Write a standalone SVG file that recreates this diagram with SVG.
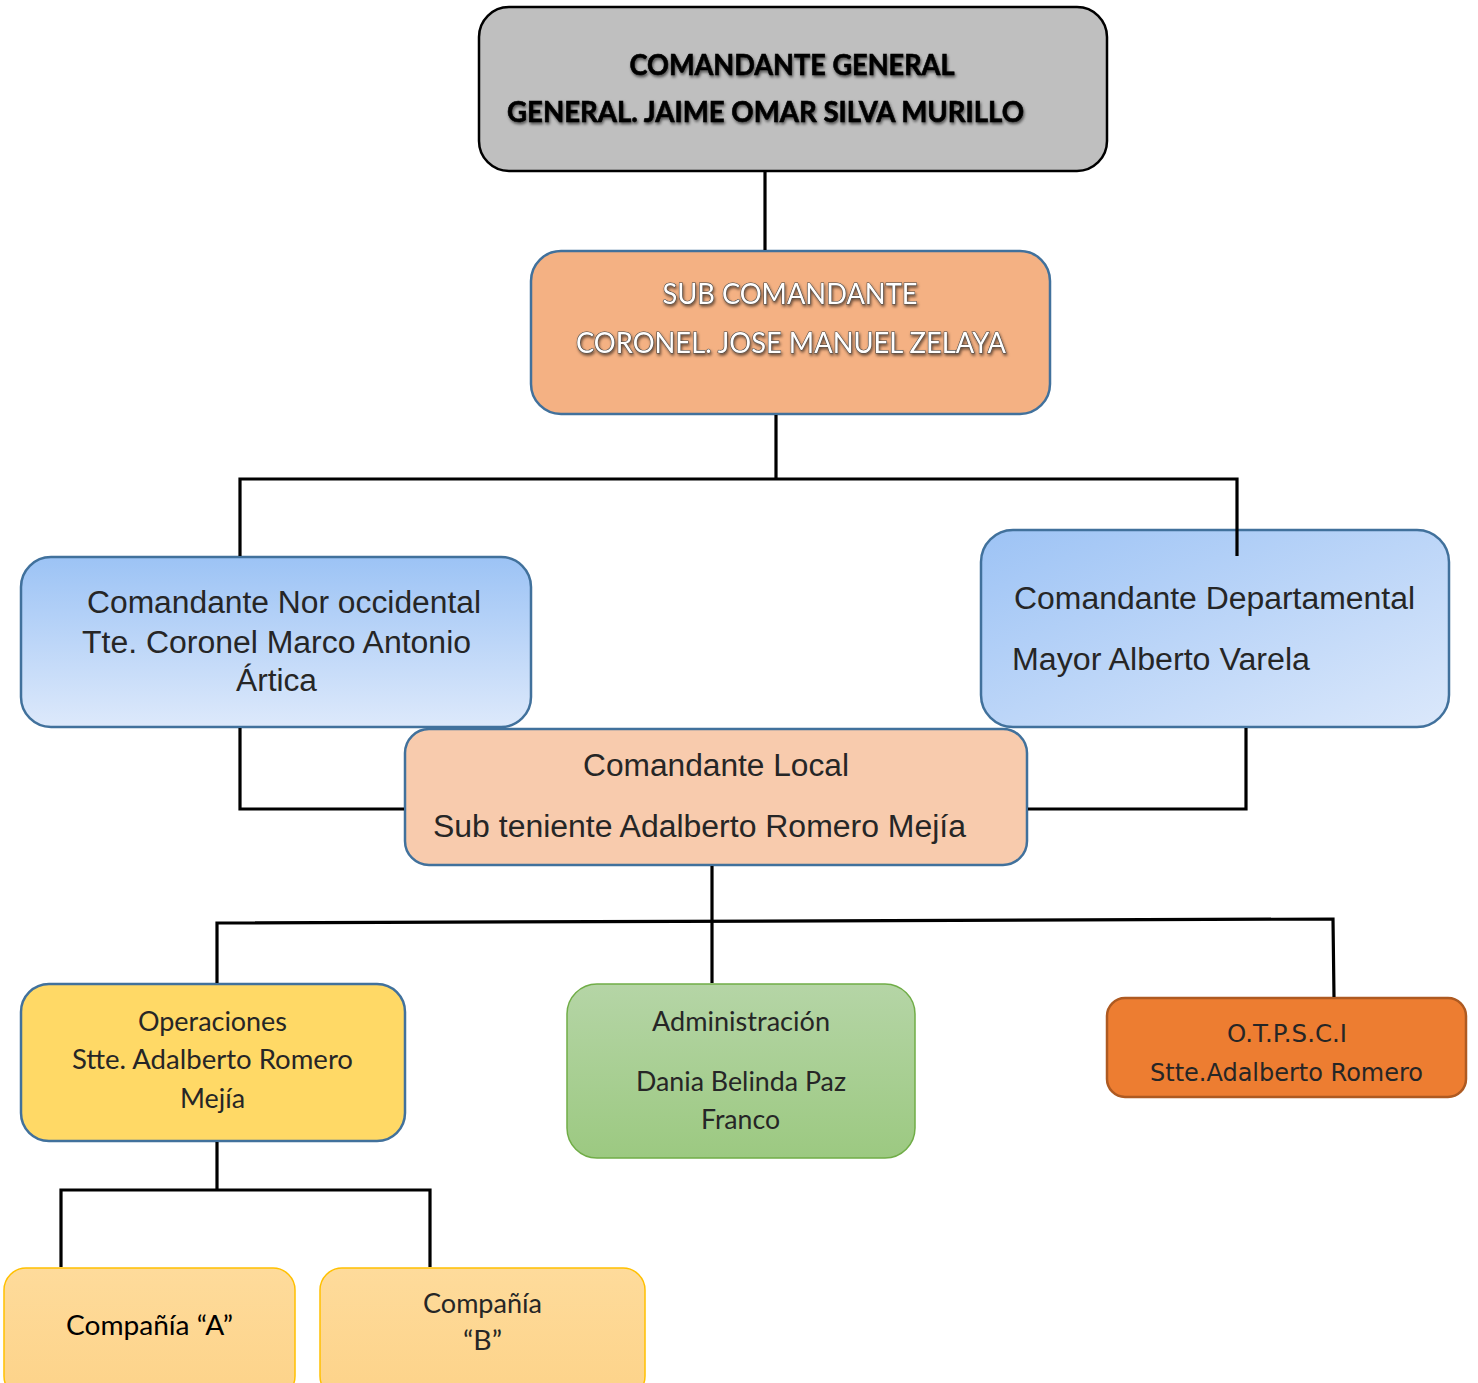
<svg xmlns="http://www.w3.org/2000/svg" width="1478" height="1383" viewBox="0 0 1478 1383">
<defs>
<linearGradient id="gBlueV" x1="0" y1="0" x2="0" y2="1"><stop offset="0" stop-color="#9cc3f5"/><stop offset="1" stop-color="#dde9fb"/></linearGradient>
<linearGradient id="gBlueD" x1="0" y1="0" x2="1" y2="1"><stop offset="0" stop-color="#9dc3f5"/><stop offset="1" stop-color="#dbe8fb"/></linearGradient>
<linearGradient id="gGreen" x1="0" y1="0" x2="0" y2="1"><stop offset="0" stop-color="#b5d5a6"/><stop offset="1" stop-color="#9cc981"/></linearGradient>
<linearGradient id="gComp" x1="0" y1="0" x2="0" y2="1"><stop offset="0" stop-color="#fedb9b"/><stop offset="1" stop-color="#fdd389"/></linearGradient>
<filter id="shadow" x="-5%" y="-30%" width="110%" height="160%"><feGaussianBlur in="SourceAlpha" stdDeviation="1.5"/><feOffset dx="1" dy="1.5" result="b"/><feFlood flood-color="#000" flood-opacity="0.6"/><feComposite in2="b" operator="in"/><feMerge><feMergeNode/><feMergeNode in="SourceGraphic"/></feMerge></filter>
</defs>
<style>
.box{stroke-width:2.5}
.conn{fill:none;stroke:#000;stroke-width:3.2;stroke-linejoin:miter}
.cal{font-family:Lato,"Open Sans","Liberation Sans",sans-serif;fill:#262626}
.ari{font-family:"Liberation Sans",Arial,sans-serif;fill:#262626}
.ver{font-family:"DejaVu Sans",Verdana,sans-serif;fill:#262626}
.big{font-family:Lato,"Liberation Sans",sans-serif;font-weight:bold;font-size:29px;fill:#000;stroke:#000;stroke-width:0.6}
.outl{font-family:Lato,"Liberation Sans",sans-serif;font-size:29px;fill:#fff;stroke:#404040;stroke-width:1.1;paint-order:stroke}
</style>
<rect width="1478" height="1383" fill="#fff"/>
<g id="node-comandante-general">
<rect class="box" x="479" y="7" width="628" height="164" rx="30" fill="#bfbfbf" stroke="#000"/>
<g filter="url(#shadow)">
<text class="big" x="792" y="75" text-anchor="middle" textLength="325" lengthAdjust="spacingAndGlyphs">COMANDANTE GENERAL</text>
<text class="big" x="507" y="122" textLength="517" lengthAdjust="spacingAndGlyphs">GENERAL. JAIME OMAR SILVA MURILLO</text>
</g>
</g>
<g id="node-sub-comandante">
<rect class="box" x="531" y="251" width="519" height="163" rx="30" fill="#f4b183" stroke="#41719c"/>
<g filter="url(#shadow)">
<text class="outl" x="790" y="304" text-anchor="middle" textLength="255" lengthAdjust="spacingAndGlyphs">SUB COMANDANTE</text>
<text class="outl" x="576" y="353" textLength="430" lengthAdjust="spacingAndGlyphs">CORONEL. JOSE MANUEL ZELAYA</text>
</g>
</g>
<g id="node-nor-occidental">
<rect class="box" x="21" y="557" width="510" height="170" rx="30" fill="url(#gBlueV)" stroke="#41719c"/>
<text class="ari" font-size="31" x="87" y="613" textLength="394" lengthAdjust="spacingAndGlyphs">Comandante Nor occidental</text>
<text class="ari" font-size="31" x="82" y="653" textLength="389" lengthAdjust="spacingAndGlyphs">Tte. Coronel Marco Antonio</text>
<text class="ari" font-size="31" x="236" y="691" textLength="81" lengthAdjust="spacingAndGlyphs">Ártica</text>
</g>
<g id="node-departamental">
<rect class="box" x="981" y="530" width="468" height="197" rx="32" fill="url(#gBlueD)" stroke="#41719c"/>
<text class="ari" font-size="31" x="1014" y="609" textLength="401" lengthAdjust="spacingAndGlyphs">Comandante Departamental</text>
<text class="ari" font-size="31" x="1012" y="670" textLength="298" lengthAdjust="spacingAndGlyphs">Mayor Alberto Varela</text>
</g>
<g id="node-local">
<rect class="box" x="405" y="729" width="622" height="136" rx="24" fill="#f8cbad" stroke="#41719c"/>
<text class="ari" font-size="31" x="583" y="776" textLength="266" lengthAdjust="spacingAndGlyphs">Comandante Local</text>
<text class="ari" font-size="31" x="433" y="837" textLength="533" lengthAdjust="spacingAndGlyphs">Sub teniente Adalberto Romero Mejía</text>
</g>
<g id="node-operaciones">
<rect class="box" x="21" y="984" width="384" height="157" rx="28" fill="#ffd966" stroke="#41719c"/>
<text class="cal" font-size="26" x="138" y="1031" textLength="149" lengthAdjust="spacingAndGlyphs">Operaciones</text>
<text class="cal" font-size="26" x="72" y="1069" textLength="281" lengthAdjust="spacingAndGlyphs">Stte. Adalberto Romero</text>
<text class="cal" font-size="26" x="180" y="1108" textLength="65" lengthAdjust="spacingAndGlyphs">Mejía</text>
</g>
<g id="node-administracion">
<rect x="567" y="984" width="348" height="174" rx="30" fill="url(#gGreen)" stroke="#70ad47" stroke-width="1.5"/>
<text class="cal" font-size="26" x="652" y="1031" textLength="178" lengthAdjust="spacingAndGlyphs">Administración</text>
<text class="cal" font-size="26" x="636" y="1091" textLength="210" lengthAdjust="spacingAndGlyphs">Dania Belinda Paz</text>
<text class="cal" font-size="26" x="701" y="1129" textLength="79" lengthAdjust="spacingAndGlyphs">Franco</text>
</g>
<g id="node-otpsci">
<rect class="box" x="1107" y="998" width="359" height="99" rx="18" fill="#ed7d31" stroke="#ae5a21"/>
<text class="ver" font-size="24" x="1227" y="1042" textLength="120" lengthAdjust="spacingAndGlyphs">O.T.P.S.C.I</text>
<text class="ver" font-size="24" x="1150" y="1081" textLength="273" lengthAdjust="spacingAndGlyphs">Stte.Adalberto Romero</text>
</g>
<g id="node-compania-a">
<rect x="4" y="1268" width="291" height="130" rx="22" fill="url(#gComp)" stroke="#ffc000" stroke-width="1.5"/>
<text class="cal" font-size="26" x="66" y="1335" textLength="167" lengthAdjust="spacingAndGlyphs" style="fill:#000">Compañía “A”</text>
</g>
<g id="node-compania-b">
<rect x="320" y="1268" width="325" height="130" rx="22" fill="url(#gComp)" stroke="#ffc000" stroke-width="1.5"/>
<text class="cal" font-size="26" x="423" y="1313" textLength="119" lengthAdjust="spacingAndGlyphs">Compañía</text>
<text class="cal" font-size="26" x="463" y="1350" textLength="39" lengthAdjust="spacingAndGlyphs">“B”</text>
</g>
<g id="connectors">
<path class="conn" d="M765,172 V250"/>
<path class="conn" d="M776,415 V479 M240,556 V479 H1237 V556"/>
<path class="conn" d="M240,728 V809 H404"/>
<path class="conn" d="M1246,728 V809 H1028"/>
<path class="conn" d="M712,866 V983"/>
<path class="conn" d="M217,983 V923 L1333,919 L1334,997"/>
<path class="conn" d="M217,1142 V1190 M61,1267 V1190 H430 V1267"/>
</g>
</svg>
